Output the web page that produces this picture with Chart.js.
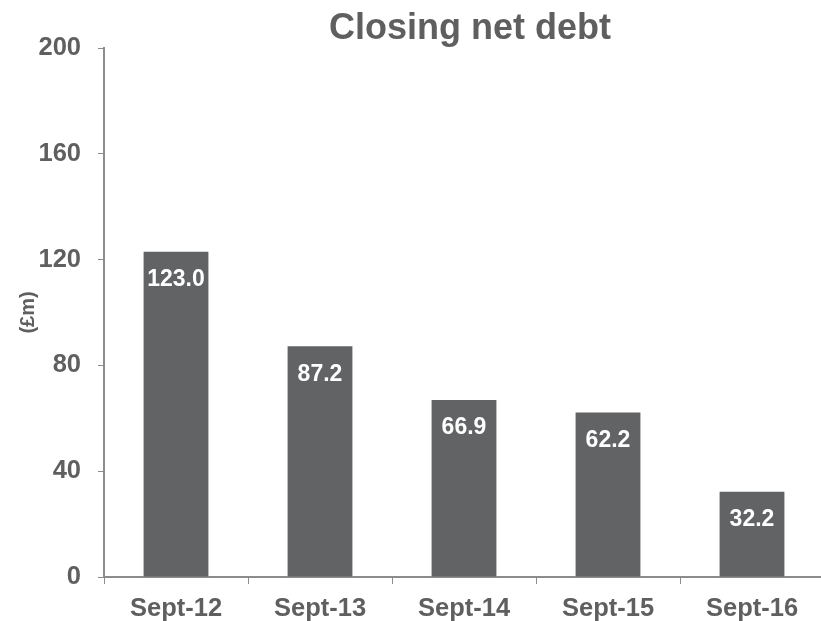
<!DOCTYPE html>
<html>
<head>
<meta charset="utf-8">
<script src="https://cdn.jsdelivr.net/npm/chart.js@4/dist/chart.umd.min.js"></script>
<style>
  html, body { margin: 0; padding: 0; background: #fff; overflow: hidden; }
  #wrap { width: 824px; height: 621px; }
</style>
</head>
<body>
<div id="wrap"><canvas id="chart" width="824" height="621"></canvas></div>
<script>
// Chart data
const categories = ["Sept-12", "Sept-13", "Sept-14", "Sept-15", "Sept-16"];
const netDebt = [123.0, 87.2, 66.9, 62.2, 32.2];
const yTicks = [0, 40, 80, 120, 160, 200];

const textColor = "#5f5f5f";
const axisColor = "#8c8c8c";
const barColor = "#626365";
const fontFamily = "'Liberation Sans', Arial, sans-serif";

// Values written inside the top of each bar
const barLabels = {
  id: "barLabels",
  afterDatasetsDraw(chart) {
    const ctx = chart.ctx;
    const meta = chart.getDatasetMeta(0);
    ctx.save();
    ctx.fillStyle = "#fff";
    ctx.font = "bold 23px " + fontFamily;
    ctx.textAlign = "center";
    ctx.textBaseline = "middle";
    meta.data.forEach((bar, i) => {
      ctx.fillText(netDebt[i].toFixed(1), bar.x, bar.y + 28);
    });
    ctx.restore();
  },
};

// Title drawn over the plot area
const chartTitle = {
  id: "chartTitle",
  afterDraw(chart) {
    const ctx = chart.ctx;
    const area = chart.chartArea;
    ctx.save();
    ctx.fillStyle = textColor;
    ctx.font = "bold 36px " + fontFamily;
    ctx.textAlign = "center";
    ctx.textBaseline = "middle";
    ctx.fillText("Closing net debt", (area.left + area.right) / 2 + 6, 29);
    ctx.restore();
  },
};

new Chart(document.getElementById("chart"), {
  type: "bar",
  data: {
    labels: categories,
    datasets: [
      {
        data: netDebt,
        backgroundColor: barColor,
        borderWidth: 0,
        barPercentage: 0.45,
        categoryPercentage: 1.0,
      },
    ],
  },
  options: {
    responsive: false,
    animation: false,
    layout: { padding: { top: 48, left: 0, right: 0, bottom: 0 } },
    plugins: {
      legend: { display: false },
      tooltip: { enabled: false },
      title: { display: false },
    },
    scales: {
      x: {
        offset: true,
        grid: {
          offset: true,
          drawOnChartArea: false,
          drawTicks: true,
          tickLength: 7,
          color: axisColor,
        },
        border: { color: axisColor, width: 2 },
        ticks: {
          color: textColor,
          font: { family: fontFamily, size: 25.5, weight: "bold" },
          padding: 10,
          maxRotation: 0,
        },
        afterFit(scale) {
          scale.height = 44;
        },
      },
      y: {
        min: 0,
        max: 200,
        afterBuildTicks(scale) {
          scale.ticks = yTicks.map((v) => ({ value: v }));
        },
        grid: {
          drawOnChartArea: false,
          drawTicks: true,
          tickLength: 6,
          color: axisColor,
        },
        border: { color: axisColor, width: 2 },
        ticks: {
          color: textColor,
          font: { family: fontFamily, size: 25.5, weight: "bold" },
          padding: 17,
        },
        title: {
          display: true,
          text: "(£m)",
          color: textColor,
          font: { family: fontFamily, size: 20, weight: "bold" },
          padding: { top: 16, bottom: 0 },
        },
        afterFit(scale) {
          scale.width = 104;
        },
      },
    },
  },
  plugins: [barLabels, chartTitle],
});
</script>
</body>
</html>
